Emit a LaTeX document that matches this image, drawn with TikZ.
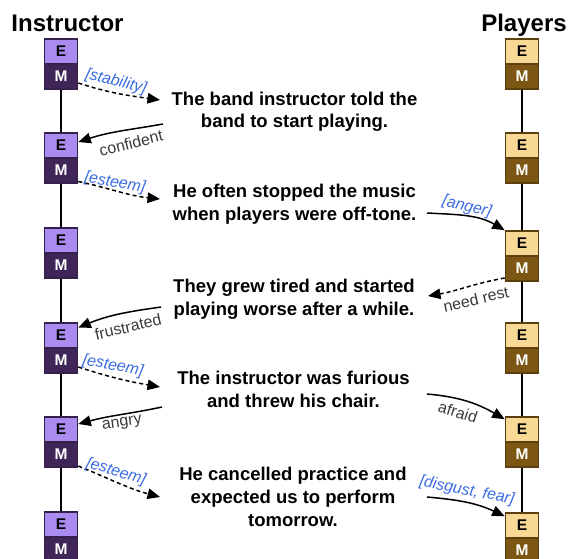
\documentclass[tikz,border=0pt]{standalone}
\usepackage{fontspec}
\setmainfont{Liberation Sans}
\usetikzlibrary{arrows.meta}
\definecolor{iE}{HTML}{AA8CF1}
\definecolor{iM}{HTML}{3F2558}
\definecolor{iB}{HTML}{34204A}
\definecolor{pE}{HTML}{F7D894}
\definecolor{pM}{HTML}{7C5714}
\definecolor{pB}{HTML}{5C3E0F}
\definecolor{lblgray}{HTML}{3A3A3A}
\definecolor{lblblue}{HTML}{3A6BE0}
\tikzset{
  boxbase/.style={rectangle, minimum width=33pt, minimum height=25pt, inner sep=0pt, line width=1.6pt, font=\fontsize{15.5}{15.5}\selectfont\bfseries},
  iEbox/.style={boxbase, draw=iB, fill=iE, text=black},
  iMbox/.style={boxbase, draw=iB, fill=iM, text=white},
  pEbox/.style={boxbase, draw=pB, fill=pE, text=black},
  pMbox/.style={boxbase, draw=pB, fill=pM, text=white},
  title/.style={inner sep=0pt, anchor=base, font=\fontsize{24}{24}\selectfont\bfseries},
  story/.style={inner sep=0pt, align=center, font=\fontsize{18.5}{22.8}\selectfont\bfseries},
  emo/.style={inner sep=0pt, font=\fontsize{16}{16}\selectfont, text=lblgray},
  need/.style={inner sep=0pt, font=\fontsize{16}{16}\selectfont\itshape, text=lblblue},
  conn/.style={line width=1.5pt, -{Triangle[length=12.5pt,width=10.5pt]}},
  dconn/.style={conn, dash pattern=on 4pt off 3pt},
  life/.style={line width=1.5pt}
}
\begin{document}
\begin{tikzpicture}[x=1pt,y=1pt]
\useasboundingbox (0,0) rectangle (569,-558);
% titles
\node[title] (tI) at (67.5,-31) {Instructor};
\node[title] (tP) at (524,-31) {Players};
% instructor boxes
\foreach \n/\t in {1/39,2/133,3/228,4/323,5/417,6/512}{
  \node[iEbox] (I\n E) at (61,-\t-12.5) {E};
  \node[iMbox] (I\n M) at (61,-\t-37.5) {M};
}
% player boxes
\foreach \n/\t in {1/39,2/133,3/231,4/323,5/417,6/513}{
  \node[pEbox] (P\n E) at (522,-\t-12.5) {E};
  \node[pMbox] (P\n M) at (522,-\t-37.5) {M};
}
% lifelines
\foreach \a/\b in {1/2,2/3,3/4,4/5,5/6}{
  \draw[life] (I\a M.south) -- (I\b E.north);
  \draw[life] (P\a M.south) -- (P\b E.north);
}
% story texts
\node[story] (t1) at (294.5,-111.7) {The band instructor told the\\band to start playing.};
\node[story] (t2) at (294.5,-204.2) {He often stopped the music\\when players were off-tone.};
\node[story] (t3) at (294,-299.2) {They grew tired and started\\playing worse after a while.};
\node[story] (t4) at (293.5,-389.7) {The instructor was furious\\and threw his chair.};
\node[story] (t5) at (293,-496.7) {He cancelled practice and\\expected us to perform\\tomorrow.};
% connector end points near the texts
\coordinate (a1e) at (160,-100);
\coordinate (a2s) at (163,-124);
\coordinate (a3e) at (160,-199);
\coordinate (a4s) at (427,-213);
\coordinate (a5e) at (428,-296);
\coordinate (a6s) at (161,-307);
\coordinate (a7e) at (160,-387);
\coordinate (a8s) at (162,-407);
\coordinate (a9s) at (427,-394);
\coordinate (a10e) at (160,-497);
\coordinate (a11s) at (427,-497);
% connectors
\draw[dconn] ([yshift=-6.5pt]I1M.east) to[out=-18,in=172] (a1e);
\draw[conn] (a2s) to[out=190,in=18] ([yshift=3.5pt]I2E.east);
\draw[dconn] ([yshift=-11pt]I2M.east) to[out=-12,in=174] (a3e);
\draw[conn] (a4s) to[out=-3,in=150] (P3E.north west);
\draw[dconn] ([yshift=-9.5pt]P3M.west) to[out=190,in=10] (a5e);
\draw[conn] (a6s) to[out=188,in=22] ([yshift=8pt]I4E.east);
\draw[dconn] ([yshift=-6.5pt]I4M.east) to[out=-18,in=170] (a7e);
\draw[conn] (a8s) to[out=192,in=15] ([yshift=5.5pt]I5E.east);
\draw[conn] (a9s) to[out=-5,in=150] ([yshift=-3pt]P5E.north west);
\draw[dconn] ([yshift=-11.5pt]I5M.east) to[out=-22,in=165] (a10e);
\draw[conn] (a11s) to[out=-5,in=155] ([yshift=-4pt]P6E.north west);
% labels
\node[need, rotate=-14] (l1) at (116,-82) {[stability]};
\node[emo, rotate=14] (l2) at (131,-143) {confident};
\node[need, rotate=-10] (l3) at (115,-183) {[esteem]};
\node[need, rotate=-14] (l4) at (467,-207) {[anger]};
\node[emo, rotate=13] (l5) at (476,-299) {need rest};
\node[emo, rotate=13] (l6) at (128,-327) {frustrated};
\node[need, rotate=-11] (l7) at (113,-366) {[esteem]};
\node[emo, rotate=8] (l8) at (122,-424) {angry};
\node[emo, rotate=-18] (l9) at (458,-412) {afraid};
\node[need, rotate=-17] (l10) at (116,-472) {[esteem]};
\node[need, rotate=-11] (l11) at (467,-491) {[disgust, fear]};
\end{tikzpicture}
\end{document}
